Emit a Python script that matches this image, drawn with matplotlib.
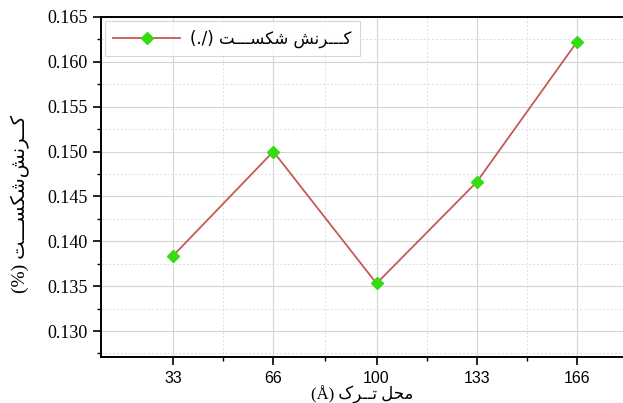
import matplotlib
matplotlib.use("Agg")
import matplotlib.pyplot as plt
from matplotlib.ticker import MultipleLocator, FixedLocator

# data
crack_pos = [33, 66, 100, 133, 166]
fracture_strain = [0.1384, 0.1500, 0.1353, 0.1466, 0.1622]
x_ticks = [33, 66, 100, 133, 166]

legend_fa = "کـــرنش شکســـت"
ylabel_fa = "کــرنش\u200cشکســـت"
xlabel_fa = "محل تــرک"

# minimal arabic shaping (matplotlib has no complex text layout)
FORMS = {
    'ک': ('\uFB8E', '\uFB8F', '\uFB90', '\uFB91'),
    'ر': ('\uFEAD', '\uFEAE', '\uFEAD', '\uFEAE'),
    'ن': ('\uFEE5', '\uFEE6', '\uFEE7', '\uFEE8'),
    'ش': ('\uFEB5', '\uFEB6', '\uFEB7', '\uFEB8'),
    'س': ('\uFEB1', '\uFEB2', '\uFEB3', '\uFEB4'),
    'ت': ('\uFE95', '\uFE96', '\uFE97', '\uFE98'),
    'م': ('\uFEE1', '\uFEE2', '\uFEE3', '\uFEE4'),
    'ح': ('\uFEA1', '\uFEA2', '\uFEA3', '\uFEA4'),
    'ل': ('\uFEDD', '\uFEDE', '\uFEDF', '\uFEE0'),
}
NON_LEFT = set('ادذرزژو')
TATWEEL = 'ـ'


def joins(c):
    return c in FORMS or c == TATWEEL


def shape(text):
    out = []
    for i, c in enumerate(text):
        if c == '\u200c':
            continue
        if c not in FORMS:
            out.append(c)
            continue
        prev = text[i - 1] if i > 0 else None
        nxt = text[i + 1] if i + 1 < len(text) else None
        jp = prev is not None and joins(prev) and prev not in NON_LEFT
        jn = nxt is not None and joins(nxt) and c not in NON_LEFT
        iso, fin, ini, med = FORMS[c]
        if jp and jn:
            out.append(med)
        elif jp:
            out.append(fin)
        elif jn:
            out.append(ini)
        else:
            out.append(iso)
    return ''.join(reversed(out))


plt.rcParams['font.family'] = ['DejaVu Sans']

fig = plt.figure(figsize=(6.23, 4.03), dpi=100)
ax = fig.add_axes([0.162, 0.114, 0.838, 0.844])

ax.plot(crack_pos, fracture_strain, color='#c55a55', lw=1.3,
        marker='D', ms=6, mfc='#33dd11', mec='#33dd11',
        label="(./) " + shape(legend_fa))

ax.set_xlim(9.2, 181.2)
ax.set_ylim(0.1271, 0.165)
ax.xaxis.set_major_locator(FixedLocator(x_ticks))
ax.xaxis.set_minor_locator(FixedLocator([49.5, 83, 116.5, 149.5]))
ax.yaxis.set_major_locator(MultipleLocator(0.005))
ax.yaxis.set_minor_locator(MultipleLocator(0.0025))

ax.grid(which='major', color='#d4d4d4', lw=0.8, ls='-')
ax.grid(which='minor', color='#dedede', lw=0.7, ls=(0, (2, 2)))
ax.set_axisbelow(True)

ax.spines['right'].set_visible(False)
for s in ['left', 'bottom', 'top']:
    ax.spines[s].set_linewidth(1.4)
ax.tick_params(which='major', length=6, width=1.2, direction='out')
ax.tick_params(which='minor', length=3, width=1.0, direction='out')
ax.tick_params(axis='y', which='both', right=False)
ax.tick_params(axis='x', which='both', top=False, pad=4)

ax.yaxis.set_major_formatter(plt.FuncFormatter(lambda v, p: "%.3f" % v))
for lab in ax.get_yticklabels():
    lab.set_fontfamily('Liberation Serif')
    lab.set_fontsize(13)
for lab in ax.get_xticklabels():
    lab.set_fontfamily('Liberation Sans')
    lab.set_fontsize(11.5)

ax.set_xlabel("(Å) " + shape(xlabel_fa), fontsize=12, labelpad=0,
              family=['Liberation Serif', 'DejaVu Sans'])
ax.xaxis.set_label_coords(0.5, -0.085)
ax.set_ylabel("(%) " + shape(ylabel_fa), fontsize=14,
              family=['Liberation Serif', 'DejaVu Sans'])
ax.yaxis.set_label_coords(-0.135, 0.45)

leg = ax.legend(loc='upper left', fontsize=12, frameon=True, fancybox=False,
                edgecolor='#cccccc', borderaxespad=0.25, handlelength=4.0,
                borderpad=0.5, handletextpad=0.6)
leg.get_frame().set_linewidth(0.8)

fig.savefig("out.png", dpi=100)
